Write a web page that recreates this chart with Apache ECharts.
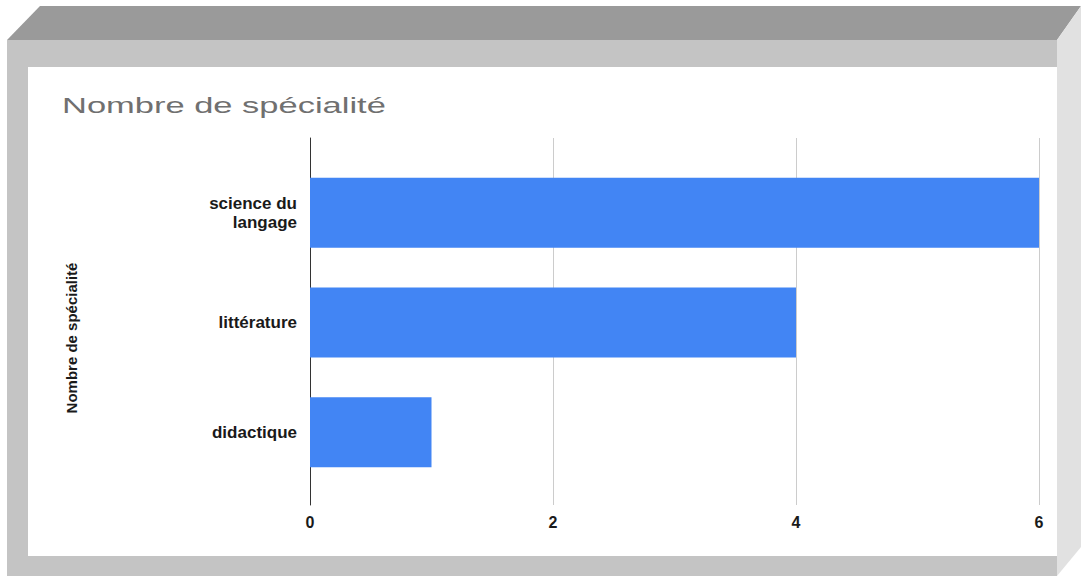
<!DOCTYPE html>
<html>
<head>
<meta charset="utf-8">
<script src="https://cdn.jsdelivr.net/npm/echarts@6/dist/echarts.min.js"></script>
<style>
html,body{margin:0;padding:0;background:#ffffff;}
#chart{width:1081px;height:576px;}
</style>
</head>
<body>
<div id="chart"></div>
<script>
const chartTitle = 'Nombre de spécialité';
const axisTitle = 'Nombre de spécialité';
const categories = ['science du langage', 'littérature', 'didactique'];
const values = [6, 4, 1];
const xMin = 0, xMax = 6, xStep = 2;

const chart = echarts.init(document.getElementById('chart'), null, {renderer: 'svg'});
const labelFont = '"Liberation Sans", Arial, sans-serif';

const option = {
  animation: false,
  backgroundColor: 'transparent',
  graphic: [
    {type: 'polygon', z: -10, shape: {points: [[40,6],[1081,6],[1057,40],[7,40]]}, style: {fill: '#9a9a9a'}},
    {type: 'rect', z: -10, shape: {x: 7, y: 40, width: 1050, height: 536}, style: {fill: '#c4c4c4'}},
    {type: 'polygon', z: -10, shape: {points: [[1081,6],[1081,547],[1057,576],[1057,40]]}, style: {fill: '#e1e1e1'}},
    {type: 'rect', z: -9, shape: {x: 28, y: 67, width: 1029, height: 489}, style: {fill: '#ffffff'}},
    {type: 'text', z: 10, x: 62, y: 105, scaleX: 1.5,
      style: {text: chartTitle, fill: '#707070', font: '23px "Liberation Sans", Arial, sans-serif', textVerticalAlign: 'middle', verticalAlign: 'middle'}},
    {type: 'text', z: 10, x: 71, y: 338, rotation: Math.PI / 2,
      style: {text: axisTitle, fill: '#1a1a1a', font: 'bold 15px "Liberation Sans", Arial, sans-serif', align: 'center', textAlign: 'center', verticalAlign: 'middle', textVerticalAlign: 'middle'}}
  ],
  grid: [
    {left: 310, right: 42, top: 138, bottom: 71},
    {left: 310, right: 42, top: 158, bottom: 89}
  ],
  xAxis: [
    {gridIndex: 0, type: 'value', min: xMin, max: xMax, interval: xStep,
      axisLine: {show: false}, axisTick: {show: false},
      splitLine: {show: true, lineStyle: {color: '#cccccc', width: 1}},
      axisLabel: {color: '#1a1a1a', fontFamily: labelFont, fontSize: 16, fontWeight: 'bold', margin: 9}},
    {gridIndex: 1, type: 'value', min: xMin, max: xMax, show: false}
  ],
  yAxis: [
    {gridIndex: 0, type: 'value', min: 0, max: 1,
      axisLine: {show: true, onZero: false, lineStyle: {color: '#333333', width: 1}},
      axisTick: {show: false}, axisLabel: {show: false}, splitLine: {show: false}},
    {gridIndex: 1, type: 'category', data: categories, inverse: true,
      axisLine: {show: false}, axisTick: {show: false}, splitLine: {show: false},
      axisLabel: {color: '#1a1a1a', fontFamily: labelFont, fontSize: 17, fontWeight: 'bold', margin: 13, lineHeight: 19,
        formatter: v => v.replace('du ', 'du\n')}}
  ],
  series: [
    {type: 'bar', xAxisIndex: 1, yAxisIndex: 1, data: values, barWidth: 70,
      itemStyle: {color: '#4285f4'}}
  ]
};
chart.setOption(option);
</script>
</body>
</html>
